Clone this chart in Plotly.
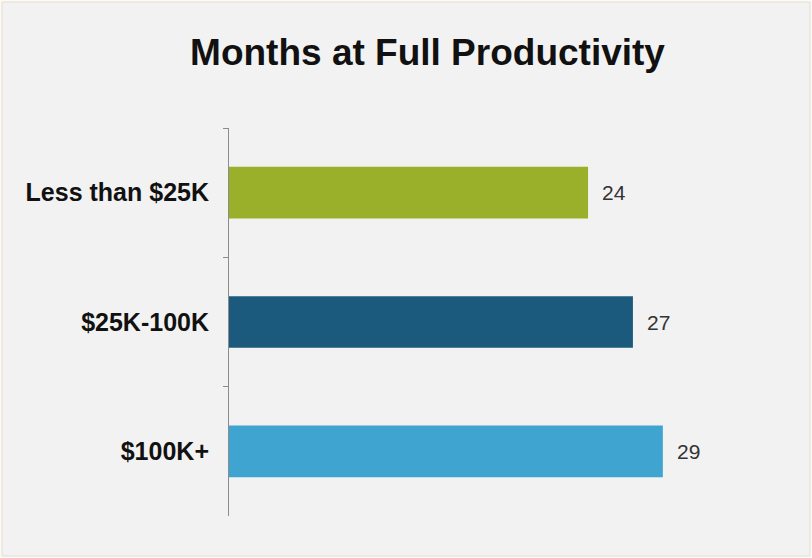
import plotly.graph_objects as go

# data
categories = ["Less than $25K", "$25K-100K", "$100K+"]
months = [24, 27, 29]
bar_colors = ["#9bb02a", "#1b5a7d", "#3fa4d0"]

W, H = 812, 558
L, R, T, B = 229, 59, 128, 42
pw, ph = W - L - R, H - T - B


def px_x(p):
    return (p - L) / pw


def px_y(p):
    return (H - B - p) / ph


fig = go.Figure()
fig.add_trace(go.Bar(
    x=months, y=categories, orientation="h",
    marker=dict(color=bar_colors, line=dict(width=0)),
    hoverinfo="skip",
))

# value labels just right of each bar
for cat, val in zip(categories, months):
    fig.add_annotation(
        x=val, y=cat, text=str(val), showarrow=False,
        xanchor="left", xshift=12,
        font=dict(family="Liberation Sans, Arial", size=21, color="#333333"),
    )

# light panel with thin border
fig.add_shape(
    type="rect", xref="paper", yref="paper", layer="below",
    x0=px_x(2), x1=px_x(810), y0=px_y(556), y1=px_y(2),
    fillcolor="#f2f2f2", line=dict(color="#e2ddd0", width=1),
)

fig.update_layout(
    width=W, height=H,
    margin=dict(l=L, r=R, t=T, b=B),
    paper_bgcolor="#fbfaf6",
    plot_bgcolor="rgba(0,0,0,0)",
    bargap=0.6,
    showlegend=False,
    title=dict(
        text="<b>Months at Full Productivity</b>",
        x=427.5 / W, xanchor="center", xref="container",
        y=1 - 52 / H, yanchor="middle", yref="container",
        font=dict(family="Liberation Sans, Arial", size=37, color="#111111"),
    ),
    xaxis=dict(range=[0, pw / 14.96], visible=False, fixedrange=True),
    yaxis=dict(
        autorange="reversed",
        showline=True, linecolor="#8c8c8c", linewidth=1,
        ticks="outside", tickson="boundaries", ticklen=5,
        tickcolor="#8c8c8c", tickwidth=1,
        ticklabelstandoff=14,
        showgrid=False,
        tickfont=dict(family="Liberation Sans, Arial", size=25, color="#111111",
                      weight="bold"),
    ),
)

fig.write_html("out.html", config={"displayModeBar": False},
               post_script="document.body.style.margin='0';")
